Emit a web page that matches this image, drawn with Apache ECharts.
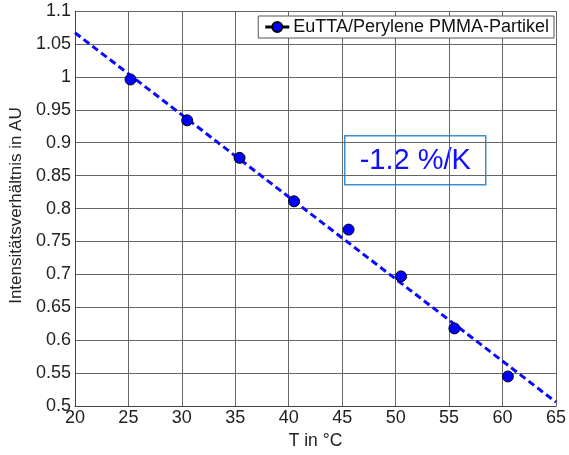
<!DOCTYPE html>
<html>
<head>
<meta charset="utf-8">
<script src="https://cdn.jsdelivr.net/npm/echarts@6/dist/echarts.min.js"></script>
<style>
html, body { margin: 0; padding: 0; background: #fff; }
#chart { width: 569px; height: 455px; }
</style>
</head>
<body>
<div id="chart"></div>
<script>
// Messpunkte
const temps = [25.2, 30.5, 35.4, 40.5, 45.6, 50.5, 55.5, 60.5];
const ratios = [0.996, 0.934, 0.877, 0.811, 0.768, 0.697, 0.618, 0.545];
// Fitgerade (Endpunkte)
const fitT = [20, 65];
const fitR = [1.067, 0.506];
const seriesName = 'EuTTA/Perylene PMMA-Partikel';
const slopeText = '-1.2 %/K';

const font = 'Liberation Sans, Arial, sans-serif';
const chart = echarts.init(document.getElementById('chart'));

const option = {
    animation: false,
    textStyle: { fontFamily: font },
    grid: { left: 72, right: 12, top: 11, bottom: 44 },
    legend: {
        right: 15,
        top: 16,
        padding: [2, 5, 2, 7],
        backgroundColor: '#fff',
        borderColor: '#555',
        borderWidth: 1,
        borderRadius: 0,
        itemWidth: 22,
        itemHeight: 10,
        itemGap: 4,
        textStyle: { fontSize: 18, color: '#111', fontFamily: font },
        data: [{
            name: seriesName,
            icon: 'path://M0,4.6 L6,4.6 L6,5.4 L0,5.4 Z M16,4.6 L22,4.6 L22,5.4 L16,5.4 Z M6,5 A5,5 0 1 0 16,5 A5,5 0 1 0 6,5 Z'
        }]
    },
    xAxis: {
        type: 'value',
        min: 20,
        max: 65,
        interval: 5,
        name: 'T in °C',
        nameLocation: 'middle',
        nameGap: 20,
        nameTextStyle: { fontSize: 17.5, color: '#222' },
        axisLine: { lineStyle: { color: '#444' } },
        axisTick: { show: false },
        axisLabel: { fontSize: 18, color: '#222', margin: 3 },
        splitLine: { lineStyle: { color: '#666', width: 1 } }
    },
    yAxis: {
        type: 'value',
        min: 0.5,
        max: 1.1,
        interval: 0.05,
        name: 'Intensitätsverhältnis in AU',
        nameLocation: 'middle',
        nameGap: 44,
        nameTextStyle: { fontSize: 17, color: '#222', padding: [0, 0, 0, 6] },
        axisLine: { show: true, lineStyle: { color: '#444' } },
        axisTick: { show: false },
        axisLabel: { fontSize: 18, color: '#222', margin: 4 },
        splitLine: { lineStyle: { color: '#666', width: 1 } }
    },
    series: [
        {
            name: 'fit',
            type: 'line',
            data: fitT.map((t, i) => [t, fitR[i]]),
            showSymbol: false,
            symbol: 'none',
            lineStyle: { color: '#0a0aff', width: 3, type: [7, 4] },
            z: 2
        },
        {
            name: seriesName,
            type: 'scatter',
            data: temps.map((t, i) => [t, ratios[i]]),
            symbolSize: 11,
            itemStyle: { color: '#0000ff', borderColor: '#000', borderWidth: 1, opacity: 1 },
            z: 3
        }
    ],
    graphic: [{
        type: 'group',
        left: 344,
        top: 135,
        children: [
            {
                type: 'rect',
                shape: { x: 0, y: 0, width: 141, height: 49 },
                style: { fill: '#fff', stroke: '#3a8fd0', lineWidth: 1.5 }
            },
            {
                type: 'text',
                x: 70.5,
                y: 25,
                style: {
                    text: slopeText,
                    fill: '#1010ff',
                    font: '29px ' + font,
                    textAlign: 'center',
                    textVerticalAlign: 'middle'
                }
            }
        ]
    }]
};

chart.setOption(option);
</script>
</body>
</html>
